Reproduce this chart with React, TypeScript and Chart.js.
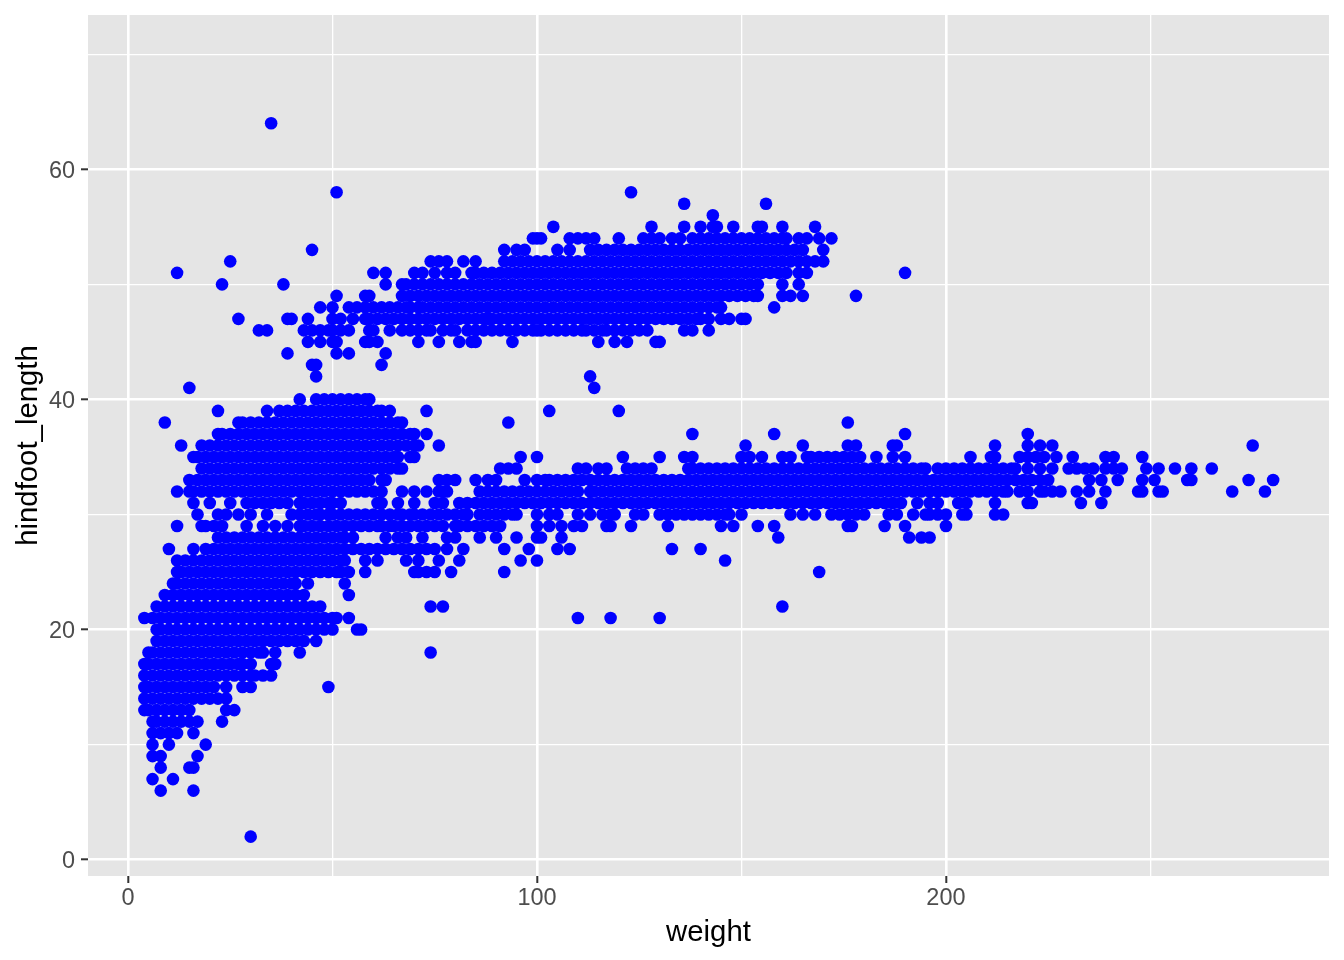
import React, { useEffect, useRef } from "react";
import { Chart, registerables } from "chart.js";

Chart.register(...registerables);

const xTicks = [0, 50, 100, 150, 200, 250];
const yTicks = [0, 10, 20, 30, 40, 50, 60, 70];
const xLabelled = [0, 100, 200];
const yLabelled = [0, 20, 40, 60];

// Weights, one list per hindfoot length.
const h2 = [30];
const h6 = [8, 16];
const h7 = [6, 11];
const h8 = [8, 15, 16];
const h9 = [6, 8, 17];
const h10 = [6, 10, 19];
const h11 = [6, 8, 10, 12, 16];
const h12 = [6, 7, 9, 11, 13, 15, 17, 23];
const h13 = [4, 5, 7, 9, 11, 13, 15, 24, 26];
const h14 = [4, 6, 8, 10, 12, 14, 16, 18, 20, 22, 24];
const h15 = [4, 5, 7, 9, 11, 13, 15, 17, 19, 21, 24, 28, 30, 49];
const h16 = [4, 6, 8, 10, 12, 14, 16, 18, 20, 22, 24, 26, 28, 30, 31, 33, 35];
const h17 = [4, 5, 7, 9, 11, 13, 15, 17, 19, 21, 23, 25, 27, 28, 30, 35, 36];
const h18 = [5, 6, 8, 10, 12, 14, 16, 18, 20, 22, 24, 26, 28, 30, 32, 33, 36, 42, 74];
const h19 = [7, 9, 11, 13, 15, 17, 19, 21, 23, 25, 27, 29, 31, 33, 35, 37, 39, 41, 43, 46];
const h20 = [7, 8, 10, 12, 14, 16, 18, 20, 22, 24, 26, 28, 30, 32, 34, 36, 38, 40, 42, 44, 46, 48, 50, 56, 57];
const h21 = [4, 6, 8, 10, 12, 14, 16, 18, 20, 22, 24, 26, 28, 30, 32, 34, 36, 38, 40, 42, 44, 46, 48, 50, 51, 54, 110, 118, 130];
const h22 = [7, 9, 11, 13, 15, 17, 19, 21, 23, 25, 27, 29, 31, 33, 35, 37, 39, 41, 43, 45, 47, 74, 77, 160];
const h23 = [9, 11, 13, 15, 17, 19, 21, 23, 25, 27, 29, 31, 33, 35, 37, 39, 41, 43, 54];
const h24 = [11, 12, 14, 16, 18, 20, 22, 24, 26, 28, 30, 32, 34, 36, 38, 40, 41, 44, 53];
const h25 = [12, 13, 15, 17, 19, 21, 23, 25, 27, 29, 31, 33, 35, 37, 39, 41, 43, 45, 47, 49, 51, 52, 54, 58, 70, 71, 73, 75, 79, 92, 169];
const h26 = [12, 14, 16, 18, 20, 22, 24, 26, 28, 30, 32, 34, 36, 38, 40, 42, 44, 46, 48, 50, 52, 53, 58, 61, 68, 71, 76, 81, 96, 100, 146];
const h27 = [10, 16, 19, 21, 23, 25, 27, 29, 31, 33, 35, 37, 39, 41, 43, 45, 47, 49, 51, 53, 55, 57, 59, 61, 63, 65, 67, 69, 71, 73, 75, 78, 82, 92, 98, 105, 108, 133, 140];
const h28 = [22, 24, 26, 28, 30, 32, 34, 36, 38, 40, 42, 44, 46, 48, 50, 52, 53, 55, 63, 66, 68, 72, 78, 80, 86, 90, 95, 100, 101, 106, 159, 191, 194, 196];
const h29 = [12, 18, 19, 21, 23, 29, 33, 36, 39, 42, 43, 45, 47, 49, 51, 53, 55, 57, 59, 61, 62, 64, 65, 67, 69, 71, 73, 75, 77, 80, 81, 83, 85, 87, 89, 91, 100, 103, 106, 109, 111, 117, 118, 123, 132, 145, 148, 154, 158, 176, 177, 185, 190, 200];
const h30 = [17, 22, 24, 27, 30, 34, 40, 42, 44, 46, 47, 49, 50, 52, 54, 56, 58, 60, 62, 64, 66, 67, 69, 70, 72, 74, 76, 78, 80, 82, 83, 86, 88, 90, 92, 94, 95, 100, 103, 105, 110, 113, 116, 118, 119, 124, 126, 130, 132, 134, 136, 138, 140, 142, 144, 146, 147, 150, 162, 165, 168, 172, 174, 176, 178, 180, 186, 188, 192, 195, 196, 198, 200, 204, 205, 212, 214];
const h31 = [16, 20, 25, 29, 31, 33, 35, 37, 39, 42, 43, 45, 47, 49, 50, 52, 61, 62, 66, 70, 75, 77, 81, 83, 85, 87, 89, 91, 93, 95, 97, 99, 101, 103, 105, 107, 109, 111, 113, 115, 117, 119, 121, 123, 125, 127, 129, 131, 133, 135, 137, 139, 141, 143, 145, 147, 149, 151, 153, 155, 157, 159, 161, 163, 165, 167, 169, 171, 173, 175, 177, 179, 181, 183, 185, 187, 189, 193, 196, 198, 203, 205, 212, 220, 221, 233, 238];
const h32 = [12, 15, 16, 18, 20, 22, 24, 26, 28, 30, 32, 34, 36, 38, 40, 42, 44, 46, 48, 50, 52, 54, 56, 58, 60, 62, 67, 70, 73, 76, 77, 78, 86, 88, 90, 92, 94, 96, 98, 100, 102, 104, 106, 108, 110, 113, 114, 116, 118, 120, 122, 124, 126, 128, 130, 132, 134, 136, 138, 140, 142, 144, 146, 148, 150, 152, 154, 156, 158, 160, 162, 164, 166, 168, 170, 172, 174, 176, 178, 180, 182, 184, 186, 188, 190, 192, 194, 196, 198, 200, 202, 204, 206, 208, 210, 212, 214, 215, 218, 220, 223, 224, 226, 228, 232, 235, 239, 247, 248, 252, 253, 270, 278];
const h33 = [15, 17, 19, 21, 23, 25, 27, 29, 31, 33, 35, 37, 39, 41, 43, 45, 47, 49, 51, 53, 55, 57, 59, 62, 63, 76, 78, 80, 85, 88, 90, 97, 100, 102, 103, 105, 107, 109, 111, 113, 115, 117, 119, 121, 123, 125, 127, 129, 131, 133, 135, 137, 139, 141, 143, 145, 147, 149, 151, 153, 155, 157, 159, 161, 163, 165, 167, 169, 171, 173, 175, 177, 179, 181, 183, 185, 187, 189, 191, 193, 195, 197, 199, 201, 203, 205, 207, 209, 211, 213, 215, 217, 219, 221, 223, 225, 235, 238, 242, 248, 251, 259, 260, 274, 280];
const h34 = [18, 20, 22, 24, 26, 28, 30, 32, 34, 36, 38, 40, 42, 44, 46, 48, 50, 52, 54, 56, 58, 60, 62, 64, 66, 67, 91, 93, 95, 110, 112, 115, 117, 122, 124, 126, 128, 137, 138, 140, 142, 144, 146, 148, 150, 152, 154, 156, 158, 160, 162, 164, 166, 168, 170, 172, 174, 176, 178, 180, 182, 184, 186, 188, 190, 192, 194, 195, 198, 200, 202, 204, 206, 208, 210, 212, 214, 216, 217, 220, 223, 226, 230, 232, 234, 236, 239, 241, 243, 249, 252, 256, 260, 265];
const h35 = [16, 17, 19, 21, 23, 25, 27, 29, 31, 33, 35, 37, 39, 41, 43, 45, 47, 49, 51, 53, 55, 57, 59, 61, 63, 65, 66, 69, 70, 96, 100, 121, 130, 136, 138, 150, 152, 155, 160, 162, 166, 167, 169, 171, 173, 175, 177, 179, 183, 187, 190, 206, 211, 212, 218, 220, 222, 224, 227, 231, 239, 241, 248];
const h36 = [13, 18, 20, 22, 24, 26, 28, 30, 32, 34, 36, 38, 40, 42, 44, 46, 48, 50, 52, 54, 56, 58, 60, 62, 64, 66, 68, 70, 71, 76, 151, 165, 176, 178, 187, 188, 212, 220, 223, 226, 275];
const h37 = [22, 23, 25, 27, 29, 31, 33, 35, 37, 39, 41, 43, 45, 47, 49, 51, 53, 55, 57, 59, 61, 63, 65, 67, 69, 70, 73, 138, 158, 190, 220];
const h38 = [9, 27, 28, 30, 32, 34, 36, 38, 40, 42, 44, 46, 48, 50, 52, 54, 56, 58, 60, 62, 64, 66, 67, 93, 176];
const h39 = [22, 34, 37, 39, 41, 43, 45, 47, 49, 51, 53, 55, 57, 59, 61, 62, 64, 73, 103, 120];
const h40 = [42, 46, 48, 50, 52, 54, 56, 58, 59];
const h41 = [15, 114];
const h42 = [46, 113];
const h43 = [45, 46, 62];
const h44 = [39, 51, 54, 63];
const h45 = [44, 47, 50, 51, 58, 59, 61, 71, 76, 81, 84, 85, 94, 115, 119, 122, 129, 130];
const h46 = [32, 34, 43, 45, 47, 49, 50, 52, 54, 59, 60, 64, 67, 69, 71, 73, 74, 77, 79, 80, 83, 85, 87, 89, 91, 93, 95, 97, 99, 100, 101, 103, 105, 107, 109, 111, 112, 114, 116, 117, 119, 121, 123, 125, 127, 136, 138, 142];
const h47 = [27, 39, 40, 44, 50, 52, 55, 58, 59, 61, 63, 65, 67, 69, 71, 73, 75, 77, 79, 81, 83, 85, 87, 88, 89, 91, 93, 95, 97, 99, 101, 103, 105, 107, 109, 111, 113, 115, 117, 119, 121, 123, 125, 127, 129, 131, 133, 135, 137, 139, 140, 142, 145, 147, 150, 151];
const h48 = [47, 50, 54, 56, 58, 60, 62, 64, 66, 68, 69, 71, 72, 74, 76, 78, 80, 82, 84, 86, 88, 90, 92, 94, 96, 98, 100, 102, 104, 106, 108, 110, 112, 114, 116, 118, 120, 122, 124, 126, 128, 130, 132, 134, 136, 138, 140, 142, 144, 145, 158];
const h49 = [51, 58, 59, 67, 69, 71, 73, 75, 77, 79, 81, 83, 85, 87, 89, 91, 93, 95, 97, 99, 101, 103, 105, 107, 109, 111, 113, 115, 117, 119, 121, 123, 125, 127, 129, 131, 133, 135, 137, 139, 141, 143, 145, 147, 149, 151, 153, 154, 160, 162, 165, 178];
const h50 = [23, 38, 63, 67, 68, 70, 72, 74, 76, 78, 80, 82, 84, 86, 88, 90, 92, 94, 96, 98, 100, 102, 104, 106, 108, 110, 112, 114, 116, 118, 120, 122, 124, 126, 128, 130, 132, 134, 136, 138, 140, 142, 144, 146, 148, 150, 152, 154, 160, 164];
const h51 = [12, 60, 63, 70, 72, 75, 78, 80, 84, 85, 87, 89, 91, 93, 95, 97, 99, 101, 103, 105, 107, 109, 111, 113, 115, 117, 119, 121, 123, 125, 127, 129, 131, 133, 135, 137, 139, 141, 143, 145, 147, 149, 151, 153, 155, 157, 159, 161, 164, 166, 190];
const h52 = [25, 74, 76, 78, 82, 85, 92, 94, 96, 98, 100, 102, 104, 106, 108, 110, 112, 114, 116, 118, 120, 122, 124, 126, 128, 130, 132, 134, 136, 138, 140, 142, 144, 146, 148, 150, 152, 154, 156, 158, 160, 162, 164, 166, 168, 170];
const h53 = [45, 92, 95, 97, 105, 108, 113, 115, 117, 119, 121, 123, 125, 127, 129, 131, 133, 135, 137, 139, 141, 143, 145, 147, 149, 151, 153, 155, 157, 159, 161, 163, 165, 170];
const h54 = [99, 100, 101, 108, 110, 112, 114, 120, 126, 128, 130, 133, 135, 138, 140, 142, 144, 146, 148, 150, 152, 154, 156, 158, 160, 161, 164, 166, 169, 172];
const h55 = [104, 128, 136, 140, 143, 144, 148, 154, 155, 160, 168];
const h56 = [143];
const h57 = [136, 156];
const h58 = [51, 123];
const h64 = [35];

const hindfootRows: [number, number[]][] = [
  [2, h2], [6, h6], [7, h7], [8, h8], [9, h9], [10, h10], [11, h11], [12, h12], [13, h13], [14, h14],
  [15, h15], [16, h16], [17, h17], [18, h18], [19, h19], [20, h20], [21, h21], [22, h22], [23, h23],
  [24, h24], [25, h25], [26, h26], [27, h27], [28, h28], [29, h29], [30, h30], [31, h31], [32, h32],
  [33, h33], [34, h34], [35, h35], [36, h36], [37, h37], [38, h38], [39, h39], [40, h40], [41, h41],
  [42, h42], [43, h43], [44, h44], [45, h45], [46, h46], [47, h47], [48, h48], [49, h49], [50, h50],
  [51, h51], [52, h52], [53, h53], [54, h54], [55, h55], [56, h56], [57, h57], [58, h58], [64, h64],
];

const points = hindfootRows.flatMap(([y, xs]) => xs.map((x) => ({ x, y })));

const FONT = '"Liberation Sans", Arial, Helvetica, sans-serif';

const panelBackground = {
  id: "panelBackground",
  beforeDraw(chart: any) {
    const { ctx, chartArea: a } = chart;
    ctx.save();
    ctx.fillStyle = "#E5E5E5";
    ctx.fillRect(a.left, a.top, a.right - a.left, a.bottom - a.top);
    ctx.restore();
  },
};

export default function App() {
  const ref = useRef<HTMLCanvasElement>(null);
  useEffect(() => {
    document.body.style.margin = "0";
    const scaleStyle = (labelled: number[], values: number[]) => ({
      afterBuildTicks(s: any) {
        s.ticks = values.map((value) => ({ value }));
      },
      border: { display: false },
      grid: {
        color: "#FFFFFF",
        lineWidth: (c: any) => (labelled.includes(c.tick?.value) ? 2.6 : 1.3),
        tickColor: (c: any) => (labelled.includes(c.tick?.value) ? "#333333" : "rgba(0,0,0,0)"),
        tickWidth: 2,
        tickLength: 7,
        drawTicks: true,
      },
    });
    const tickStyle = (labelled: number[]) => ({
      autoSkip: false,
      maxRotation: 0,
      minRotation: 0,
      color: "#4D4D4D",
    });
    const chart = new Chart(ref.current!, {
      type: "scatter",
      data: {
        datasets: [
          {
            data: points,
            pointRadius: 6.3,
            pointHoverRadius: 6.3,
            pointBackgroundColor: "#0000FF",
            pointBorderWidth: 0,
            showLine: false,
          },
        ],
      },
      options: {
        animation: false,
        responsive: false,
        devicePixelRatio: 1,
        layout: { padding: { top: 15, right: 15, left: 0, bottom: 0 } },
        plugins: { legend: { display: false }, tooltip: { enabled: false } },
        scales: {
          x: {
            type: "linear",
            min: -9.78,
            max: 293.66,
            ...scaleStyle(xLabelled, xTicks),
            afterFit(s: any) {
              s.height = 84;
              s.paddingLeft = 0;
              s.paddingRight = 0;
            },
            ticks: {
              ...tickStyle(xLabelled),
              padding: 1,
              font: { family: FONT, size: 23.47 },
              callback: (v: any) => (xLabelled.includes(Number(v)) ? String(v) : ""),
            },
            title: {
              display: true,
              text: "weight",
              color: "#000000",
              font: { family: FONT, size: 29.33 },
              padding: { top: 0, bottom: 9.4 },
            },
          },
          y: {
            type: "linear",
            min: -1.42,
            max: 73.41,
            ...scaleStyle(yLabelled, yTicks),
            afterFit(s: any) {
              s.width = 88;
              s.paddingTop = 0;
              s.paddingBottom = 0;
            },
            ticks: {
              ...tickStyle(yLabelled),
              padding: 6,
              // An empty first line with a small line height moves the digits down to the tick.
              font: { family: FONT, size: 23.47, lineHeight: "4px" },
              callback: (v: any) => (yLabelled.includes(Number(v)) ? ["", String(v)] : ""),
            },
            title: {
              display: true,
              text: "hindfoot_length",
              color: "#000000",
              font: { family: FONT, size: 29.33 },
              padding: { top: 11.4, bottom: 0 },
            },
          },
        },
      },
      plugins: [panelBackground],
    } as any);
    return () => chart.destroy();
  }, []);
  return <canvas ref={ref} width={1344} height={960} style={{ display: "block" }} />;
}
